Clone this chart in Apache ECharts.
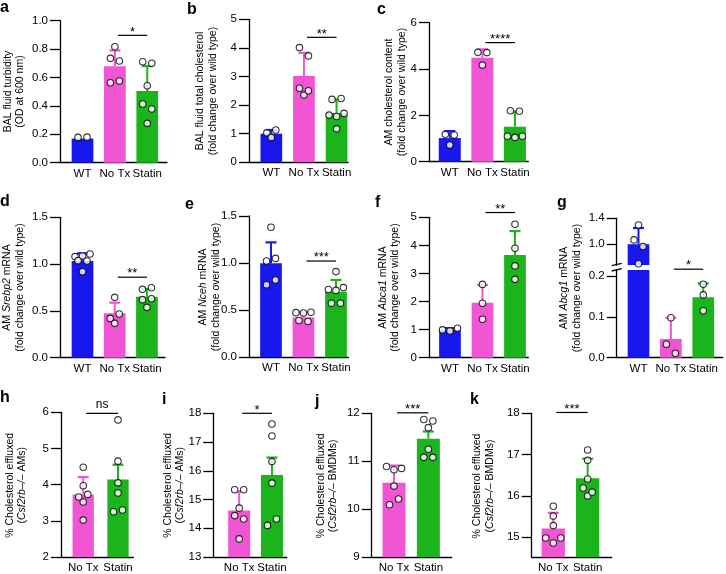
<!DOCTYPE html>
<html><head><meta charset="utf-8">
<script src="https://cdn.jsdelivr.net/npm/echarts@6/dist/echarts.min.js"></script>
<style>html,body{margin:0;padding:0;background:#fff}#c{width:726px;height:574px}</style>
</head><body><div id="c"></div>
<script>
// ---------- data ----------
const cats3 = ['WT', 'No Tx', 'Statin'];
const cats2 = ['No Tx', 'Statin'];

const aTicks = [0, 0.2, 0.4, 0.6, 0.8, 1.0];
const aMean = [0.17, 0.68, 0.505];
const aTop = [0.17, 0.79, 0.68];
const aWT = [0.178, 0.18];
const aNoTx = [0.817, 0.735, 0.716, 0.563, 0.575];
const aStatin = [0.711, 0.70, 0.542, 0.413, 0.378, 0.277];
const aSig = '*';

const bTicks = [0, 1, 2, 3, 4, 5];
const bMean = [1.0, 3.02, 1.72];
const bTop = [1.13, 3.83, 2.2];
const bWT = [1.03, 0.87, 1.13];
const bNoTx = [4.01, 3.72, 2.59, 2.35, 2.5];
const bStatin = [2.2, 2.23, 1.65, 1.6, 1.71, 1.17];
const bSig = '**';

const cTicks = [0, 2, 4, 6];
const cMean = [1.02, 4.49, 1.51];
const cTop = [1.32, 4.85, 2.16];
const cWT = [1.18, 1.15, 0.72];
const cNoTx = [4.72, 4.71, 4.17];
const cStatin = [2.2, 2.18, 1.1, 1.05, 1.1];
const cSig = '****';

const dTicks = [0, 0.5, 1.0, 1.5];
const dMean = [1.033, 0.474, 0.652];
const dTop = [1.115, 0.588, 0.734];
const dWT = [1.08, 1.087, 1.108, 1.037, 1.033, 0.919];
const dNoTx = [0.645, 0.42, 0.467, 0.367];
const dStatin = [0.73, 0.748, 0.62, 0.63, 0.538];
const dSig = '**';

const eTicks = [0, 0.5, 1.0, 1.5];
const eMean = [0.998, 0.424, 0.697];
const eTop = [1.22, 0.478, 0.82];
const eWT = [1.38, 1.022, 1.05, 0.77, 0.82];
const eNoTx = [0.474, 0.47, 0.478, 0.39, 0.38];
const eStatin = [0.91, 0.72, 0.71, 0.74, 0.573, 0.573];
const eSig = '***';

const fTicks = [0, 1, 2, 3, 4, 5];
const fMean = [0.99, 1.96, 3.66];
const fTop = [1.05, 2.59, 4.51];
const fWT = [0.99, 0.95, 1.05];
const fNoTx = [2.61, 1.94, 1.37];
const fStatin = [4.75, 3.9, 3.27, 2.79];
const fSig = '**';

const gTicksUpper = [1.0, 1.4];
const gTicksLower = [0, 0.1, 0.2];
const gMean = [1.0, 0.046, 0.148];
const gTop = [1.25, 0.098, 0.182];
const gWT = [1.297, 1.067, 0.964, 0.70];
const gNoTx = [0.098, 0.033, 0.011];
const gStatin = [0.18, 0.154, 0.115];
const gSig = '*';

const hTicks = [2, 3, 4, 5, 6];
const hMean = [3.73, 4.14];
const hTop = [4.21, 4.55];
const hNoTx = [4.48, 3.97, 3.66, 3.73, 3.52, 3.02];
const hStatin = [5.79, 4.65, 4.05, 3.77, 3.25, 3.3];
const hSig = 'ns';

const iTicks = [13, 14, 15, 16, 17, 18];
const iMean = [14.62, 15.85];
const iTop = [15.28, 16.46];
const iNoTx = [15.34, 15.34, 14.7, 14.44, 14.32, 13.63];
const iStatin = [17.63, 17.21, 16.32, 15.57, 14.1, 14.32];
const iSig = '*';

const jTicks = [9, 10, 11, 12];
const jMean = [10.55, 11.47];
const jTop = [10.91, 11.62];
const jNoTx = [10.89, 10.82, 10.85, 10.48, 10.09, 10.21];
const jStatin = [11.87, 11.84, 11.70, 11.25, 11.08, 11.08];
const jSig = '***';

const kTicks = [15, 16, 17, 18];
const kMean = [15.21, 16.43];
const kTop = [15.59, 16.9];
const kNoTx = [15.75, 15.51, 15.28, 14.98, 14.86, 14.98];
const kStatin = [17.11, 16.86, 16.41, 16.19, 16.0, 16.09];
const kSig = '***';

// ---------- styling / layout ----------
const FONT = "'Liberation Sans', Arial, Helvetica, sans-serif";
const COL = {'WT': '#1717ee', 'No Tx': '#f055d3', 'Statin': '#1cb41c'};
const AX = {color: '#000', width: 1.3};

// simple dot-plot spreading: rows of nearly equal values are spread horizontally
function swarm(vals, ppu) {
  const idx = vals.map((v, i) => i).sort((a, b) => vals[b] - vals[a]);
  const rows = [];
  idx.forEach(i => {
    const r = rows[rows.length - 1];
    if (r && (vals[r.top] - vals[i]) * ppu < 6) r.m.push(i);
    else rows.push({top: i, m: [i]});
  });
  const merged = [];
  rows.forEach(r => {
    const last = merged[merged.length - 1];
    if (last && last.m.length === 1 && r.m.length === 1 && !last.mg &&
        (vals[last.m[0]] - vals[r.m[0]]) * ppu < 9) { last.m.push(r.m[0]); last.mg = true; }
    else merged.push(r);
  });
  const dx = new Array(vals.length).fill(0);
  merged.forEach(r => {
    const m = r.m.slice().sort((a, b) => a - b);
    const n = m.length, S = n === 2 ? 9 : 7.5;
    m.forEach((i, k) => { dx[i] = (k - (n - 1) / 2) * S; });
  });
  return dx;
}

const option = {animation: false, backgroundColor: '#fff', grid: [], xAxis: [], yAxis: [], series: [], graphic: []};

function addGrid(p) {
  const gi = option.grid.length;
  const show = p.show || p.cats.map(() => true);
  option.grid.push({left: p.l, top: p.t, width: p.w, height: p.h});
  option.xAxis.push({
    type: 'value', gridIndex: gi, min: p.xr[0], max: p.xr[1], show: p.showX !== false,
    axisLine: {show: true, onZero: false, lineStyle: AX},
    axisTick: {show: false}, splitLine: {show: false},
    axisLabel: {customValues: p.cats.map((c, i) => i), formatter: v => p.cats[Math.round(v)],
      color: '#000', fontSize: 11.5, fontFamily: FONT, margin: 5}
  });
  option.yAxis.push({
    type: 'value', gridIndex: gi, min: p.yr[0], max: p.yr[1],
    axisLine: {show: true, onZero: false, lineStyle: AX},
    axisTick: {show: true, length: 10, customValues: p.ticks, lineStyle: AX},
    splitLine: {show: false},
    axisLabel: {customValues: p.ticks, formatter: v => Number(v).toFixed(p.dec),
      color: '#000', fontSize: 11.5, fontFamily: FONT, margin: 12}
  });
  const ppu = p.h / (p.yr[1] - p.yr[0]);
  option.series.push({
    type: 'bar', xAxisIndex: gi, yAxisIndex: gi, barWidth: p.bw, z: 2, silent: true,
    data: p.means.map((m, i) => ({value: [i, m], itemStyle: {color: COL[p.cats[i]]}})).filter((d, i) => show[i])
  });
  const errShow = p.errShow || show;
  const errData = p.means.map((m, i) => [i, m, p.tops[i]]).filter((d, i) => errShow[i] && p.tops[i] > p.means[i]);
  option.series.push({
    type: 'custom', xAxisIndex: gi, yAxisIndex: gi, z: 3, silent: true, data: errData,
    renderItem: (params, api) => {
      const i = api.value(0);
      const p0 = api.coord([i, api.value(1)]);
      const p1 = api.coord([i, api.value(2)]);
      const col = COL[p.cats[i]];
      return {type: 'group', children: [
        {type: 'line', shape: {x1: p0[0], y1: p0[1], x2: p1[0], y2: p1[1]}, style: {stroke: col, lineWidth: 2}},
        {type: 'line', shape: {x1: p1[0] - 5.5, y1: p1[1], x2: p1[0] + 5.5, y2: p1[1]}, style: {stroke: col, lineWidth: 2.2}}
      ]};
    }
  });
  const pts = [];
  p.pts.forEach((arr, i) => {
    if (!errShow[i]) return;
    const dx = swarm(arr, ppu);
    arr.forEach((v, k) => pts.push({value: [i, v], symbolOffset: [dx[k], 0]}));
  });
  option.series.push({
    type: 'scatter', xAxisIndex: gi, yAxisIndex: gi, z: 4, silent: true, symbol: 'circle', symbolSize: 6.5,
    itemStyle: {color: '#fff', borderColor: '#000', borderWidth: 1.1}, data: pts
  });
  if (p.sig) {
    const lab = p.sig.label;
    const star = lab.indexOf('*') >= 0;
    option.series.push({
      type: 'custom', xAxisIndex: gi, yAxisIndex: gi, z: 5, silent: true,
      data: [[p.sig.from, p.sig.to, p.sig.y]],
      renderItem: (params, api) => {
        const a = api.coord([api.value(0), api.value(2)]);
        const b = api.coord([api.value(1), api.value(2)]);
        const x1 = a[0] + 3, x2 = b[0];
        return {type: 'group', children: [
          {type: 'line', shape: {x1: x1, y1: a[1], x2: x2, y2: b[1]}, style: {stroke: '#000', lineWidth: 1.2}},
          {type: 'text', style: {text: lab, x: (x1 + x2) / 2, y: a[1] - (star ? 3.3 : 8.4),
            textAlign: 'center', textVerticalAlign: 'middle', align: 'center', verticalAlign: 'middle',
            font: (star ? '13px ' : '12px ') + FONT, fill: '#000'}}
        ]};
      }
    });
  }
}

const panels = [
  {l: 60, t: 20.7, w: 107, h: 142, xr: [-0.696, 2.61], yr: [0, 1], ticks: aTicks, dec: 1, bw: 21.7,
   cats: cats3, means: aMean, tops: aTop, pts: [aWT, aNoTx, aStatin], sig: {from: 1, to: 2, y: 0.897, label: aSig}},
  {l: 249, t: 19.3, w: 99, h: 143, xr: [-0.684, 2.35], yr: [0, 5], ticks: bTicks, dec: 0, bw: 21.7,
   cats: cats3, means: bMean, tops: bTop, pts: [bWT, bNoTx, bStatin], sig: {from: 1, to: 2, y: 4.37, label: bSig}},
  {l: 429, t: 22.7, w: 99.3, h: 139, xr: [-0.638, 2.41], yr: [0, 6], ticks: cTicks, dec: 0, bw: 22,
   cats: cats3, means: cMean, tops: cTop, pts: [cWT, cNoTx, cStatin], sig: {from: 1, to: 2, y: 5.14, label: cSig}},
  {l: 60, t: 217.3, w: 105, h: 140.4, xr: [-0.698, 2.56], yr: [0, 1.5], ticks: dTicks, dec: 1, bw: 21.7,
   cats: cats3, means: dMean, tops: dTop, pts: [dWT, dNoTx, dStatin], sig: {from: 1, to: 2, y: 0.86, label: dSig}},
  {l: 249, t: 216, w: 99.3, h: 141.3, xr: [-0.677, 2.38], yr: [0, 1.5], ticks: eTicks, dec: 1, bw: 21.7,
   cats: cats3, means: eMean, tops: eTop, pts: [eWT, eNoTx, eStatin], sig: {from: 1, to: 2, y: 1.022, label: eSig}},
  {l: 429, t: 217.3, w: 99.3, h: 140.4, xr: [-0.646, 2.41], yr: [0, 5], ticks: fTicks, dec: 0, bw: 21.7,
   cats: cats3, means: fMean, tops: fTop, pts: [fWT, fNoTx, fStatin], sig: {from: 1, to: 2, y: 5.17, label: fSig}},
  {l: 616.7, t: 218.3, w: 106, h: 46.7, xr: [-0.673, 2.6], yr: [0.68, 1.4], ticks: gTicksUpper, dec: 1, bw: 21.7,
   cats: cats3, means: gMean, tops: gTop, pts: [gWT, gNoTx, gStatin], show: [true, false, false], showX: false},
  {l: 616.7, t: 270, w: 106, h: 87.7, xr: [-0.673, 2.6], yr: [0, 0.215], ticks: gTicksLower, dec: 1, bw: 21.7,
   cats: cats3, means: gMean, tops: gTop, pts: [gWT, gNoTx, gStatin], show: [true, true, true],
   errShow: [false, true, true], sig: {from: 1, to: 2, y: 0.217, label: gSig}},
  {l: 61, t: 412.3, w: 72.3, h: 146, xr: [-0.64, 1.44], yr: [2, 6], ticks: hTicks, dec: 0, bw: 21.3,
   cats: cats2, means: hMean, tops: hTop, pts: [hNoTx, hStatin], sig: {from: 0, to: 1, y: 5.97, label: hSig}},
  {l: 213.3, t: 413.3, w: 73.4, h: 144, xr: [-0.79, 1.45], yr: [13, 18], ticks: iTicks, dec: 0, bw: 22,
   cats: cats2, means: iMean, tops: iTop, pts: [iNoTx, iStatin], sig: {from: 0, to: 1, y: 18.0, label: iSig}},
  {l: 371.7, t: 413.3, w: 80, h: 145, xr: [-0.65, 1.68], yr: [9, 12], ticks: jTicks, dec: 0, bw: 23,
   cats: cats2, means: jMean, tops: jTop, pts: [jNoTx, jStatin], sig: {from: 0, to: 1, y: 12.01, label: jSig}},
  {l: 531.7, t: 413.3, w: 80, h: 145.7, xr: [-0.628, 1.70], yr: [14.52, 18], ticks: kTicks, dec: 0, bw: 23.3,
   cats: cats2, means: kMean, tops: kTop, pts: [kNoTx, kStatin], sig: {from: 0, to: 1, y: 18.02, label: kSig}}
];
panels.forEach(addGrid);

const FC = '{n|(fold change over wild type)}';
const titles = [
  [14, 91.5, '{n|BAL fluid turbidity}', '{n|(OD at 600 nm)}'],
  [206.7, 91, '{n|BAL fluid total cholesterol}', FC],
  [395.8, 92, '{n|AM cholesterol content}', FC],
  [13.5, 287.5, '{n|AM }{i|Srebp2}{n| mRNA}', FC],
  [209.7, 287, '{n|AM }{i|Nceh}{n| mRNA}', FC],
  [389.2, 287.5, '{n|AM }{i|Abca1}{n| mRNA}', FC],
  [570.8, 288, '{n|AM }{i|Abcg1}{n| mRNA}', FC],
  [16, 485.3, '{n|% Cholesterol effluxed}', '{n|(}{i|Csf2rb–/–}{n| AMs)}'],
  [174, 485.3, '{n|% Cholesterol effluxed}', '{n|(}{i|Csf2rb–/–}{n| AMs)}'],
  [327, 485.8, '{n|% Cholesterol effluxed}', '{n|(}{i|Csf2rb–/–}{n| BMDMs)}'],
  [483.7, 486, '{n|% Cholesterol effluxed}', '{n|(}{i|Csf2rb–/–}{n| BMDMs)}']
];
const RICH = {
  n: {fontSize: 10.5, fontFamily: FONT, lineHeight: 12.5, fill: '#000'},
  i: {fontSize: 10.5, fontFamily: FONT, lineHeight: 12.5, fill: '#000', fontStyle: 'italic'}
};
titles.forEach(t => option.graphic.push({
  type: 'text', x: t[0], y: t[1], rotation: Math.PI / 2, silent: true,
  style: {text: t[2] + '\n' + t[3], rich: RICH, align: 'center', verticalAlign: 'middle', fill: '#000'}
}));

const letters = [['a', 0, 13], ['b', 187, 15], ['c', 377, 15], ['d', 0, 207], ['e', 185, 210], ['f', 375, 208],
  ['g', 557, 208.5], ['h', 0, 403], ['i', 162, 405], ['j', 315, 407], ['k', 470, 405]];
letters.forEach(L => option.graphic.push({
  type: 'text', x: L[1], y: L[2] + 2.4, silent: true,
  style: {text: L[0], font: 'bold 16px ' + FONT, fill: '#000', align: 'left', verticalAlign: 'bottom'}
}));

// axis break marks on panel g
[[264.5], [269.8]].forEach(b => option.graphic.push({
  type: 'line', silent: true, shape: {x1: 611.7, y1: b[0] + 1.2, x2: 621.7, y2: b[0] - 1.2},
  style: {stroke: '#000', lineWidth: 1.3}
}));

const chart = echarts.init(document.getElementById('c'), null, {renderer: 'canvas'});
chart.setOption(option);
</script>
</body></html>
